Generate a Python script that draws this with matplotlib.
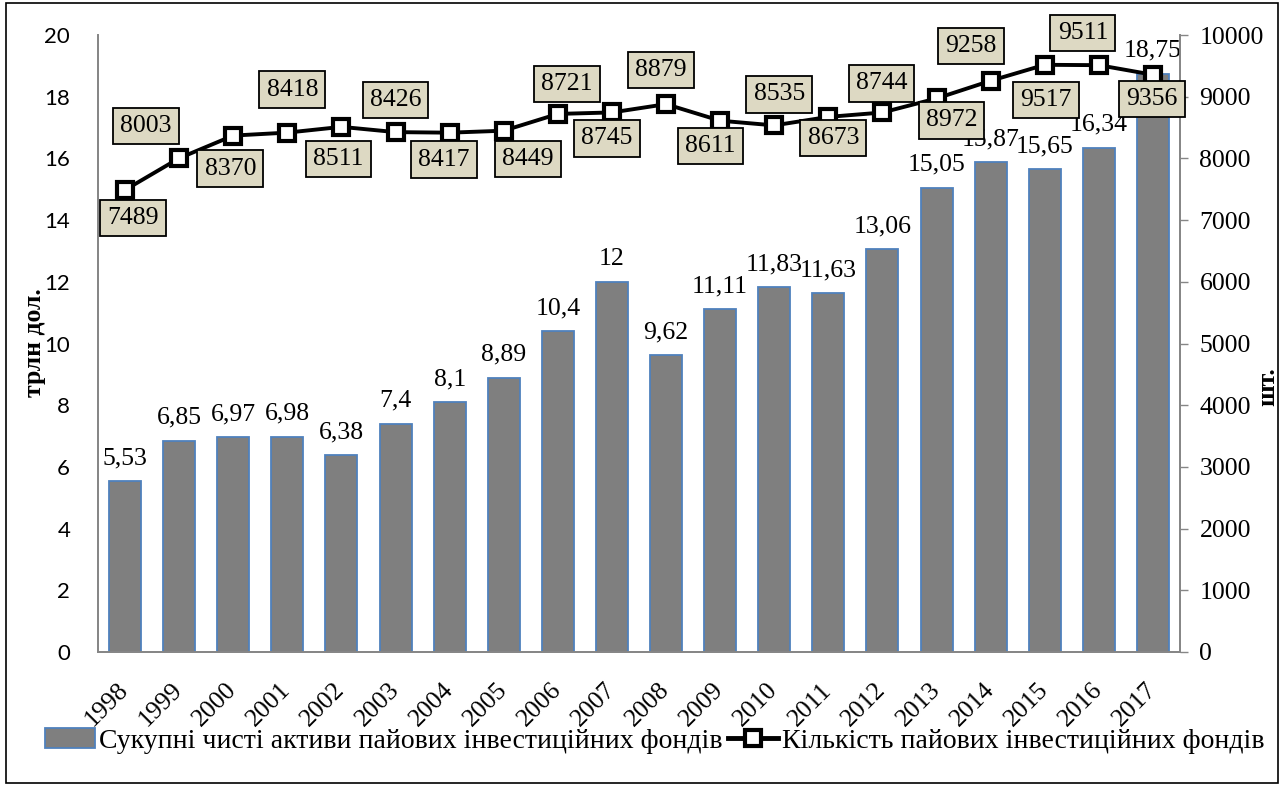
import matplotlib
matplotlib.use("Agg")
import matplotlib.pyplot as plt
from matplotlib.patches import Rectangle
from matplotlib.lines import Line2D
import numpy as np

years = ["1998", "1999", "2000", "2001", "2002", "2003", "2004", "2005", "2006", "2007",
         "2008", "2009", "2010", "2011", "2012", "2013", "2014", "2015", "2016", "2017"]
assets = [5.53, 6.85, 6.97, 6.98, 6.38, 7.4, 8.1, 8.89, 10.4, 12,
          9.62, 11.11, 11.83, 11.63, 13.06, 15.05, 15.87, 15.65, 16.34, 18.75]
funds = [7489, 8003, 8370, 8418, 8511, 8426, 8417, 8449, 8721, 8745,
         8879, 8611, 8535, 8673, 8744, 8972, 9258, 9517, 9511, 9356]
asset_labels = ["5,53", "6,85", "6,97", "6,98", "6,38", "7,4", "8,1", "8,89", "10,4", "12",
                "9,62", "11,11", "11,83", "11,63", "13,06", "15,05", "15,87", "15,65", "16,34", "18,75"]
bar_name = "Сукупні чисті активи пайових інвестиційних фондів"
line_name = "Кількість пайових інвестиційних фондів"
left_label = "трлн дол."
right_label = "шт."

# label offsets (pixels) for the fund-count boxes
label_offsets = [(8, -28), (-33, 32), (-3, -33), (5, 43), (-3, -32), (0, 32), (-6, -27),
                 (24, -28), (9, 30), (-5, -26), (-5, 34), (-10, -25), (5, 31), (5, -21),
                 (-1, 29), (15, -22), (-20, 35), (1, -35), (-16, 32), (-1, -24)]

W, H = 1283, 787
fig = plt.figure(figsize=(W / 100, H / 100), dpi=100)
serif = "Liberation Serif"
sans = "Lato"
fs = 18.5

ax = fig.add_axes([98 / W, 1 - 652 / H, (1180 - 98) / W, (652 - 35) / H])
ax2 = ax.twinx()

x = np.arange(len(years))
ax.bar(x, assets, width=0.59, color="#7f7f7f", edgecolor="#4f81bd", linewidth=1.3, zorder=2)
ax.set_ylim(0, 20)
ax.set_xlim(-0.5, len(years) - 0.5)
ax.set_yticks(np.arange(0, 21, 2))
ax.set_yticklabels([str(v) for v in range(0, 21, 2)], fontfamily=sans, fontsize=16)
ax.tick_params(axis="y", length=0, pad=20)
ax.set_xticks(x)
ax.set_xticklabels(years, rotation=45, ha="right", va="center", rotation_mode="anchor",
                   fontfamily=serif, fontsize=fs)
ax.tick_params(axis="x", length=0, pad=25)

for xi, v, lab in zip(x, assets, asset_labels):
    ax.annotate(lab, (xi, v), xytext=(0, 12), textcoords="offset pixels",
                ha="center", va="bottom", fontfamily=serif, fontsize=fs, zorder=3)

ax2.plot(x, funds, color="black", linewidth=2.8, marker="s", markersize=12,
         markerfacecolor="white", markeredgecolor="black", markeredgewidth=3, zorder=4)
ax2.set_ylim(0, 10000)
ax2.set_yticks(np.arange(0, 10001, 1000))
ax2.set_yticklabels([str(v) for v in range(0, 10001, 1000)], fontfamily=serif, fontsize=fs)
ax2.tick_params(axis="y", length=6, width=1, color="#868686", pad=8, direction="out")

for xi, v, (dx, dy) in zip(x, funds, label_offsets):
    ax2.annotate(str(v), (xi, v), xytext=(dx, dy), textcoords="offset pixels",
                 ha="center", va="center", fontfamily=serif, fontsize=fs, zorder=5,
                 bbox=dict(boxstyle="square,pad=0.28", facecolor="#ddd9c3",
                           edgecolor="black", linewidth=1.3))

for a in (ax, ax2):
    a.spines["top"].set_visible(False)
    for s in ("left", "right", "bottom"):
        a.spines[s].set_color("#868686")
        a.spines[s].set_linewidth(1.3)

fig.text(35 / W, 1 - 343 / H, left_label, rotation=90, ha="center", va="center",
         fontfamily=serif, fontweight="bold", fontsize=fs)
fig.text(1268 / W, 1 - 387 / H, right_label, rotation=90, ha="center", va="center",
         fontfamily=serif, fontweight="bold", fontsize=fs)

handles = [Rectangle((0, 0), 1, 1, facecolor="#7f7f7f", edgecolor="#4f81bd", linewidth=1.3),
           Line2D([], [], color="black", linewidth=3.5, marker="s", markersize=12,
                  markerfacecolor="white", markeredgecolor="black", markeredgewidth=3)]
fig.legend(handles, [bar_name, line_name], loc="center", bbox_to_anchor=(655 / W, 1 - 741 / H),
           ncol=2, frameon=False, prop={"family": serif, "size": 20},
           handlelength=1.8, handletextpad=0.15, columnspacing=0.2, borderpad=0)

fig.add_artist(Rectangle((6 / W, 1 - 783 / H), (1278 - 6) / W, (783 - 3) / H,
                         transform=fig.transFigure, fill=False, edgecolor="black", linewidth=1.2))

fig.savefig("out.png", dpi=100)
